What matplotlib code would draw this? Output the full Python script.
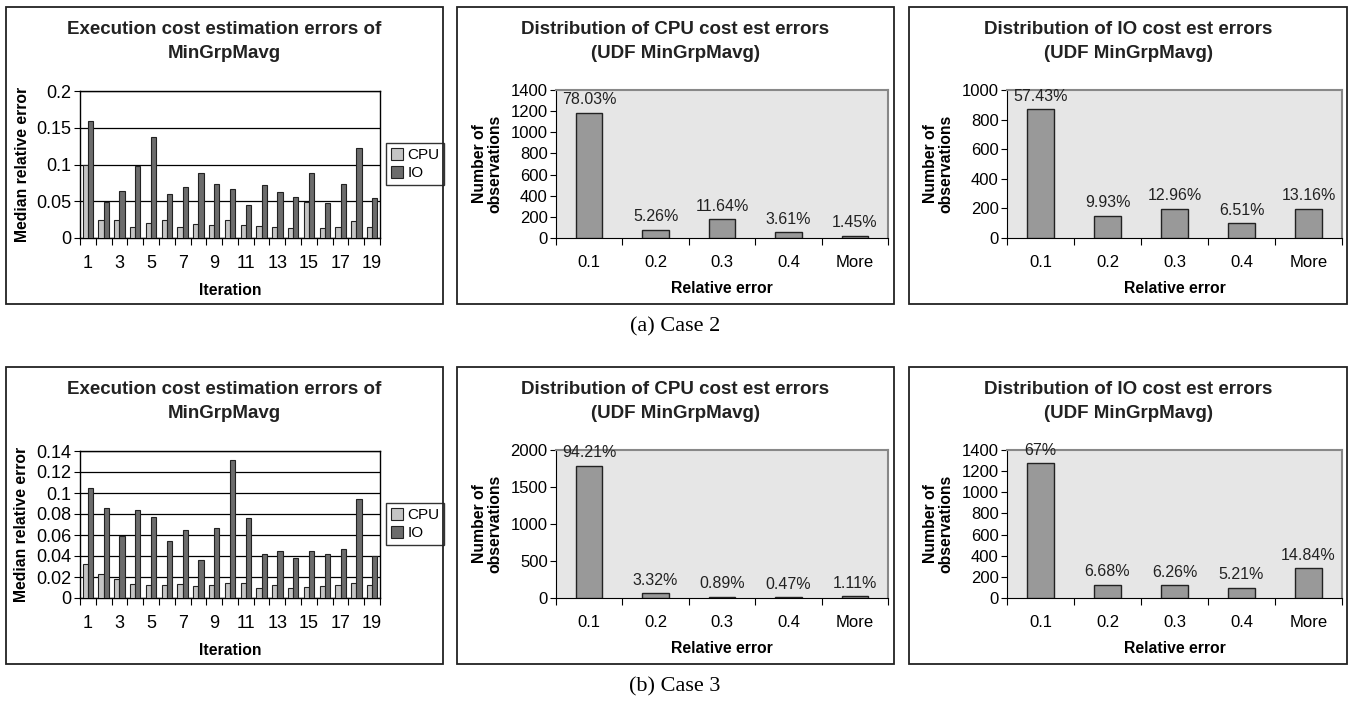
import matplotlib.pyplot as plt
from matplotlib.patches import Rectangle
import numpy as np

plt.rcParams['font.family'] = ['Liberation Sans', 'DejaVu Sans']

# ---- data ----
iterations = list(range(1, 20))
iter_ticklabels = [str(i) if i % 2 == 1 else '' for i in iterations]

case2_cpu = [0.100, 0.024, 0.025, 0.015, 0.020, 0.024, 0.015, 0.0195, 0.018, 0.024,
             0.018, 0.017, 0.015, 0.013, 0.049, 0.013, 0.0145, 0.023, 0.0145]
case2_io = [0.159, 0.049, 0.064, 0.0975, 0.137, 0.060, 0.069, 0.088, 0.074, 0.067,
            0.045, 0.0725, 0.063, 0.056, 0.089, 0.048, 0.074, 0.1225, 0.055]
case3_cpu = [0.032, 0.0225, 0.0184, 0.0137, 0.0127, 0.0127, 0.013, 0.0114, 0.0127, 0.0143,
             0.0143, 0.0098, 0.012, 0.0095, 0.0108, 0.0114, 0.012, 0.0146, 0.0127]
case3_io = [0.105, 0.0857, 0.0594, 0.084, 0.077, 0.0546, 0.065, 0.0365, 0.067, 0.1317,
            0.0759, 0.0422, 0.0444, 0.0384, 0.045, 0.0416, 0.0467, 0.094, 0.0397]

case2_err_ticks = [0, 0.05, 0.1, 0.15, 0.2]
case2_err_labels = ['0', '0.05', '0.1', '0.15', '0.2']
case3_err_ticks = [0, 0.02, 0.04, 0.06, 0.08, 0.1, 0.12, 0.14]
case3_err_labels = ['0', '0.02', '0.04', '0.06', '0.08', '0.1', '0.12', '0.14']

bins = ['0.1', '0.2', '0.3', '0.4', 'More']

case2_cpu_counts = [1185, 80, 177, 55, 22]
case2_cpu_pct = ['78.03%', '5.26%', '11.64%', '3.61%', '1.45%']
case2_cpu_ticks = [0, 200, 400, 600, 800, 1000, 1200, 1400]

case2_io_counts = [870, 150, 196, 99, 199]
case2_io_pct = ['57.43%', '9.93%', '12.96%', '6.51%', '13.16%']
case2_io_ticks = [0, 200, 400, 600, 800, 1000]

case3_cpu_counts = [1790, 63, 17, 9, 21]
case3_cpu_pct = ['94.21%', '3.32%', '0.89%', '0.47%', '1.11%']
case3_cpu_ticks = [0, 500, 1000, 1500, 2000]

case3_io_counts = [1275, 127, 119, 99, 282]
case3_io_pct = ['67%', '6.68%', '6.26%', '5.21%', '14.84%']
case3_io_ticks = [0, 200, 400, 600, 800, 1000, 1200, 1400]

W, H = 1351, 703
fig = plt.figure(figsize=(W / 100, H / 100), dpi=100)


def rect(x0, y0, x1, y1):
    return [x0 / W, 1 - y1 / H, (x1 - x0) / W, (y1 - y0) / H]


def panel_box(x0, y0, x1, y1, title_lines):
    fig.patches.append(Rectangle((x0 / W, 1 - y1 / H), (x1 - x0) / W, (y1 - y0) / H,
                                 transform=fig.transFigure, fill=False,
                                 edgecolor='#222222', linewidth=1.3))
    cx = (x0 + x1) / 2 / W
    for k, line in enumerate(title_lines):
        fig.text(cx, 1 - (y0 + 22 + 25 * k) / H, line, ha='center', va='center',
                 fontsize=13.5, fontweight='bold', color='#222222')


def iteration_chart(ax, cpu, io, yticks, ylabels):
    x = np.array(iterations)
    w = 0.33
    ax.bar(x - w / 2, cpu, w, color='#c4c4c4', edgecolor='#222222', linewidth=0.8,
           label='CPU', zorder=3)
    ax.bar(x + w / 2, io, w, color='#6c6c6c', edgecolor='#222222', linewidth=0.8,
           label='IO', zorder=3)
    ax.set_xlim(0.5, 19.5)
    ax.set_ylim(yticks[0], yticks[-1])
    ax.set_yticks(yticks, ylabels)
    ax.yaxis.grid(True, color='black', linewidth=0.9, zorder=0)
    ax.set_xticks(np.arange(0.5, 20, 1), [''] * 20)
    ax.set_xticks(x, iter_ticklabels, minor=True)
    ax.tick_params(axis='x', which='minor', length=0, pad=12)
    ax.tick_params(axis='x', which='major', length=5, direction='out')
    ax.tick_params(axis='y', length=4, direction='out', pad=2)
    ax.tick_params(which='both', labelsize=13)
    for s in ax.spines.values():
        s.set_color('black')
        s.set_linewidth(1.0)
    ax.set_xlabel('Iteration', fontsize=11.3, fontweight='bold', labelpad=8)
    ax.set_ylabel('Median relative error', fontsize=11.3, fontweight='bold', labelpad=5)


def histogram_chart(ax, counts, pct, yticks):
    x = np.arange(len(bins))
    ax.set_facecolor('#e6e6e6')
    ax.bar(x, counts, 0.4, color='#999999', edgecolor='#222222', linewidth=1.0, zorder=3)
    for xi, c, p in zip(x, counts, pct):
        ax.annotate(p, (xi, c), xytext=(0, 4), textcoords='offset points',
                    ha='center', va='bottom', fontsize=11.5, color='#222222')
    ax.set_xlim(-0.5, len(bins) - 0.5)
    ax.set_ylim(yticks[0], yticks[-1])
    ax.set_yticks(yticks, [str(t) for t in yticks])
    ax.set_xticks(np.arange(-0.5, len(bins), 1), [''] * (len(bins) + 1))
    ax.set_xticks(x, bins, minor=True)
    ax.tick_params(axis='x', which='minor', length=0, pad=12)
    ax.tick_params(axis='x', which='major', length=5, direction='out')
    ax.tick_params(axis='y', length=4, direction='out', pad=2)
    ax.tick_params(which='both', labelsize=12)
    ax.spines['top'].set_color('#888888')
    ax.spines['right'].set_color('#888888')
    ax.spines['top'].set_linewidth(1.5)
    ax.spines['right'].set_linewidth(1.5)
    ax.spines['left'].set_color('black')
    ax.spines['bottom'].set_color('black')
    ax.set_xlabel('Relative error', fontsize=11.3, fontweight='bold', labelpad=8)
    ax.set_ylabel('Number of\nobservations', fontsize=11.3, fontweight='bold',
                  labelpad=6, linespacing=1.0)


rows = [
    (0, case2_cpu, case2_io, case2_err_ticks, case2_err_labels,
     case2_cpu_counts, case2_cpu_pct, case2_cpu_ticks,
     case2_io_counts, case2_io_pct, case2_io_ticks, '(a) Case 2'),
    (360, case3_cpu, case3_io, case3_err_ticks, case3_err_labels,
     case3_cpu_counts, case3_cpu_pct, case3_cpu_ticks,
     case3_io_counts, case3_io_pct, case3_io_ticks, '(b) Case 3'),
]

for (dy, cpu, io, et, el, cc, cp, ct, ic, ip, it, caption) in rows:
    panel_box(6, 7 + dy, 443, 304 + dy, ['Execution cost estimation errors of', 'MinGrpMavg'])
    panel_box(457, 7 + dy, 894, 304 + dy, ['Distribution of CPU cost est errors', '(UDF MinGrpMavg)'])
    panel_box(909, 7 + dy, 1347, 304 + dy, ['Distribution of IO cost est errors', '(UDF MinGrpMavg)'])

    ax1 = fig.add_axes(rect(80, 91 + dy, 380, 238 + dy))
    iteration_chart(ax1, cpu, io, et, el)
    leg = ax1.legend(loc='center left', bbox_to_anchor=(386 / W, 1 - (164 + dy) / H),
                     bbox_transform=fig.transFigure, fontsize=11, frameon=True,
                     fancybox=False, edgecolor='black', handlelength=0.8,
                     handleheight=0.8, handletextpad=0.3, borderpad=0.3,
                     labelspacing=0.25, borderaxespad=0)
    leg.get_frame().set_linewidth(1.0)

    ax2 = fig.add_axes(rect(556, 90 + dy, 888, 238 + dy))
    histogram_chart(ax2, cc, cp, ct)

    ax3 = fig.add_axes(rect(1007, 90 + dy, 1342, 238 + dy))
    histogram_chart(ax3, ic, ip, it)

    fig.text(675 / W, 1 - (327 + dy) / H, caption, ha='center', va='center',
             fontsize=16, family='Liberation Serif')

fig.savefig('out.png', dpi=100)
